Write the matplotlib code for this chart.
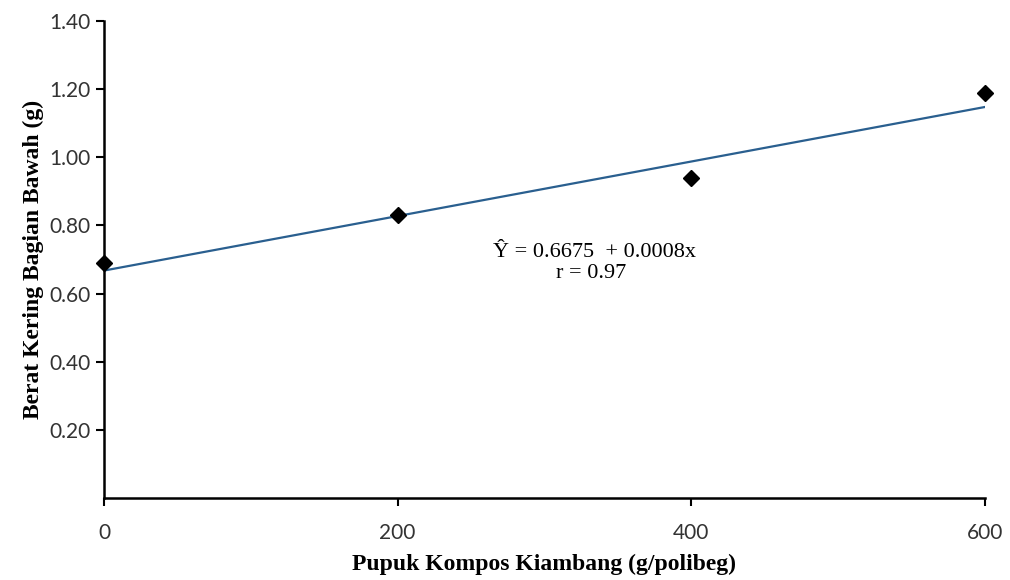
import numpy as np
import matplotlib
matplotlib.use("Agg")
import matplotlib.pyplot as plt

# ---- data ----
dose = [0, 200, 400, 600]
weight = [0.69, 0.83, 0.94, 1.19]
intercept, slope = 0.6675, 0.0008
yticks = [0.20, 0.40, 0.60, 0.80, 1.00, 1.20, 1.40]
xticks = [0, 200, 400, 600]

fig = plt.figure(figsize=(10.1, 5.8), dpi=100)
ax = fig.add_axes([0.103, 0.1414, 0.872, 0.8224])

xl = np.array([0, 600])
ax.plot(xl, intercept + slope * xl, color="#2a5f8f", lw=1.6, zorder=2)
ax.plot(dose, weight, "D", color="black", ms=8, zorder=3, clip_on=False)

ax.set_xlim(0, 600); ax.set_ylim(0, 1.40)
ax.set_xticks(xticks)
ax.set_xticklabels([str(v) for v in xticks], fontname="Lato", fontsize=15, color="#333333")
ax.set_yticks(yticks)
ax.set_yticklabels([f"{v:.2f}" for v in yticks], fontname="Lato", fontsize=15, color="#333333")
ax.tick_params(direction="out", length=6, width=1.5, color="black")
ax.tick_params(axis="x", pad=12)
for s in ["top", "right"]:
    ax.spines[s].set_visible(False)
for s in ["left", "bottom"]:
    ax.spines[s].set_linewidth(1.8)

ax.set_xlabel("Pupuk Kompos Kiambang (g/polibeg)", fontname="Liberation Serif",
              fontweight="bold", fontsize=17, labelpad=8)
ax.set_ylabel("Berat Kering Bagian Bawah (g)", fontname="Liberation Serif",
              fontweight="bold", fontsize=17, labelpad=4)

ax.text(334, 0.721, "Ŷ = 0.6675  + 0.0008x", fontname="Liberation Serif", fontsize=16,
        ha="center", va="center")
ax.text(332, 0.66, "r = 0.97", fontname="Liberation Serif", fontsize=16,
        ha="center", va="center")

fig.savefig("out.png", dpi=100)
